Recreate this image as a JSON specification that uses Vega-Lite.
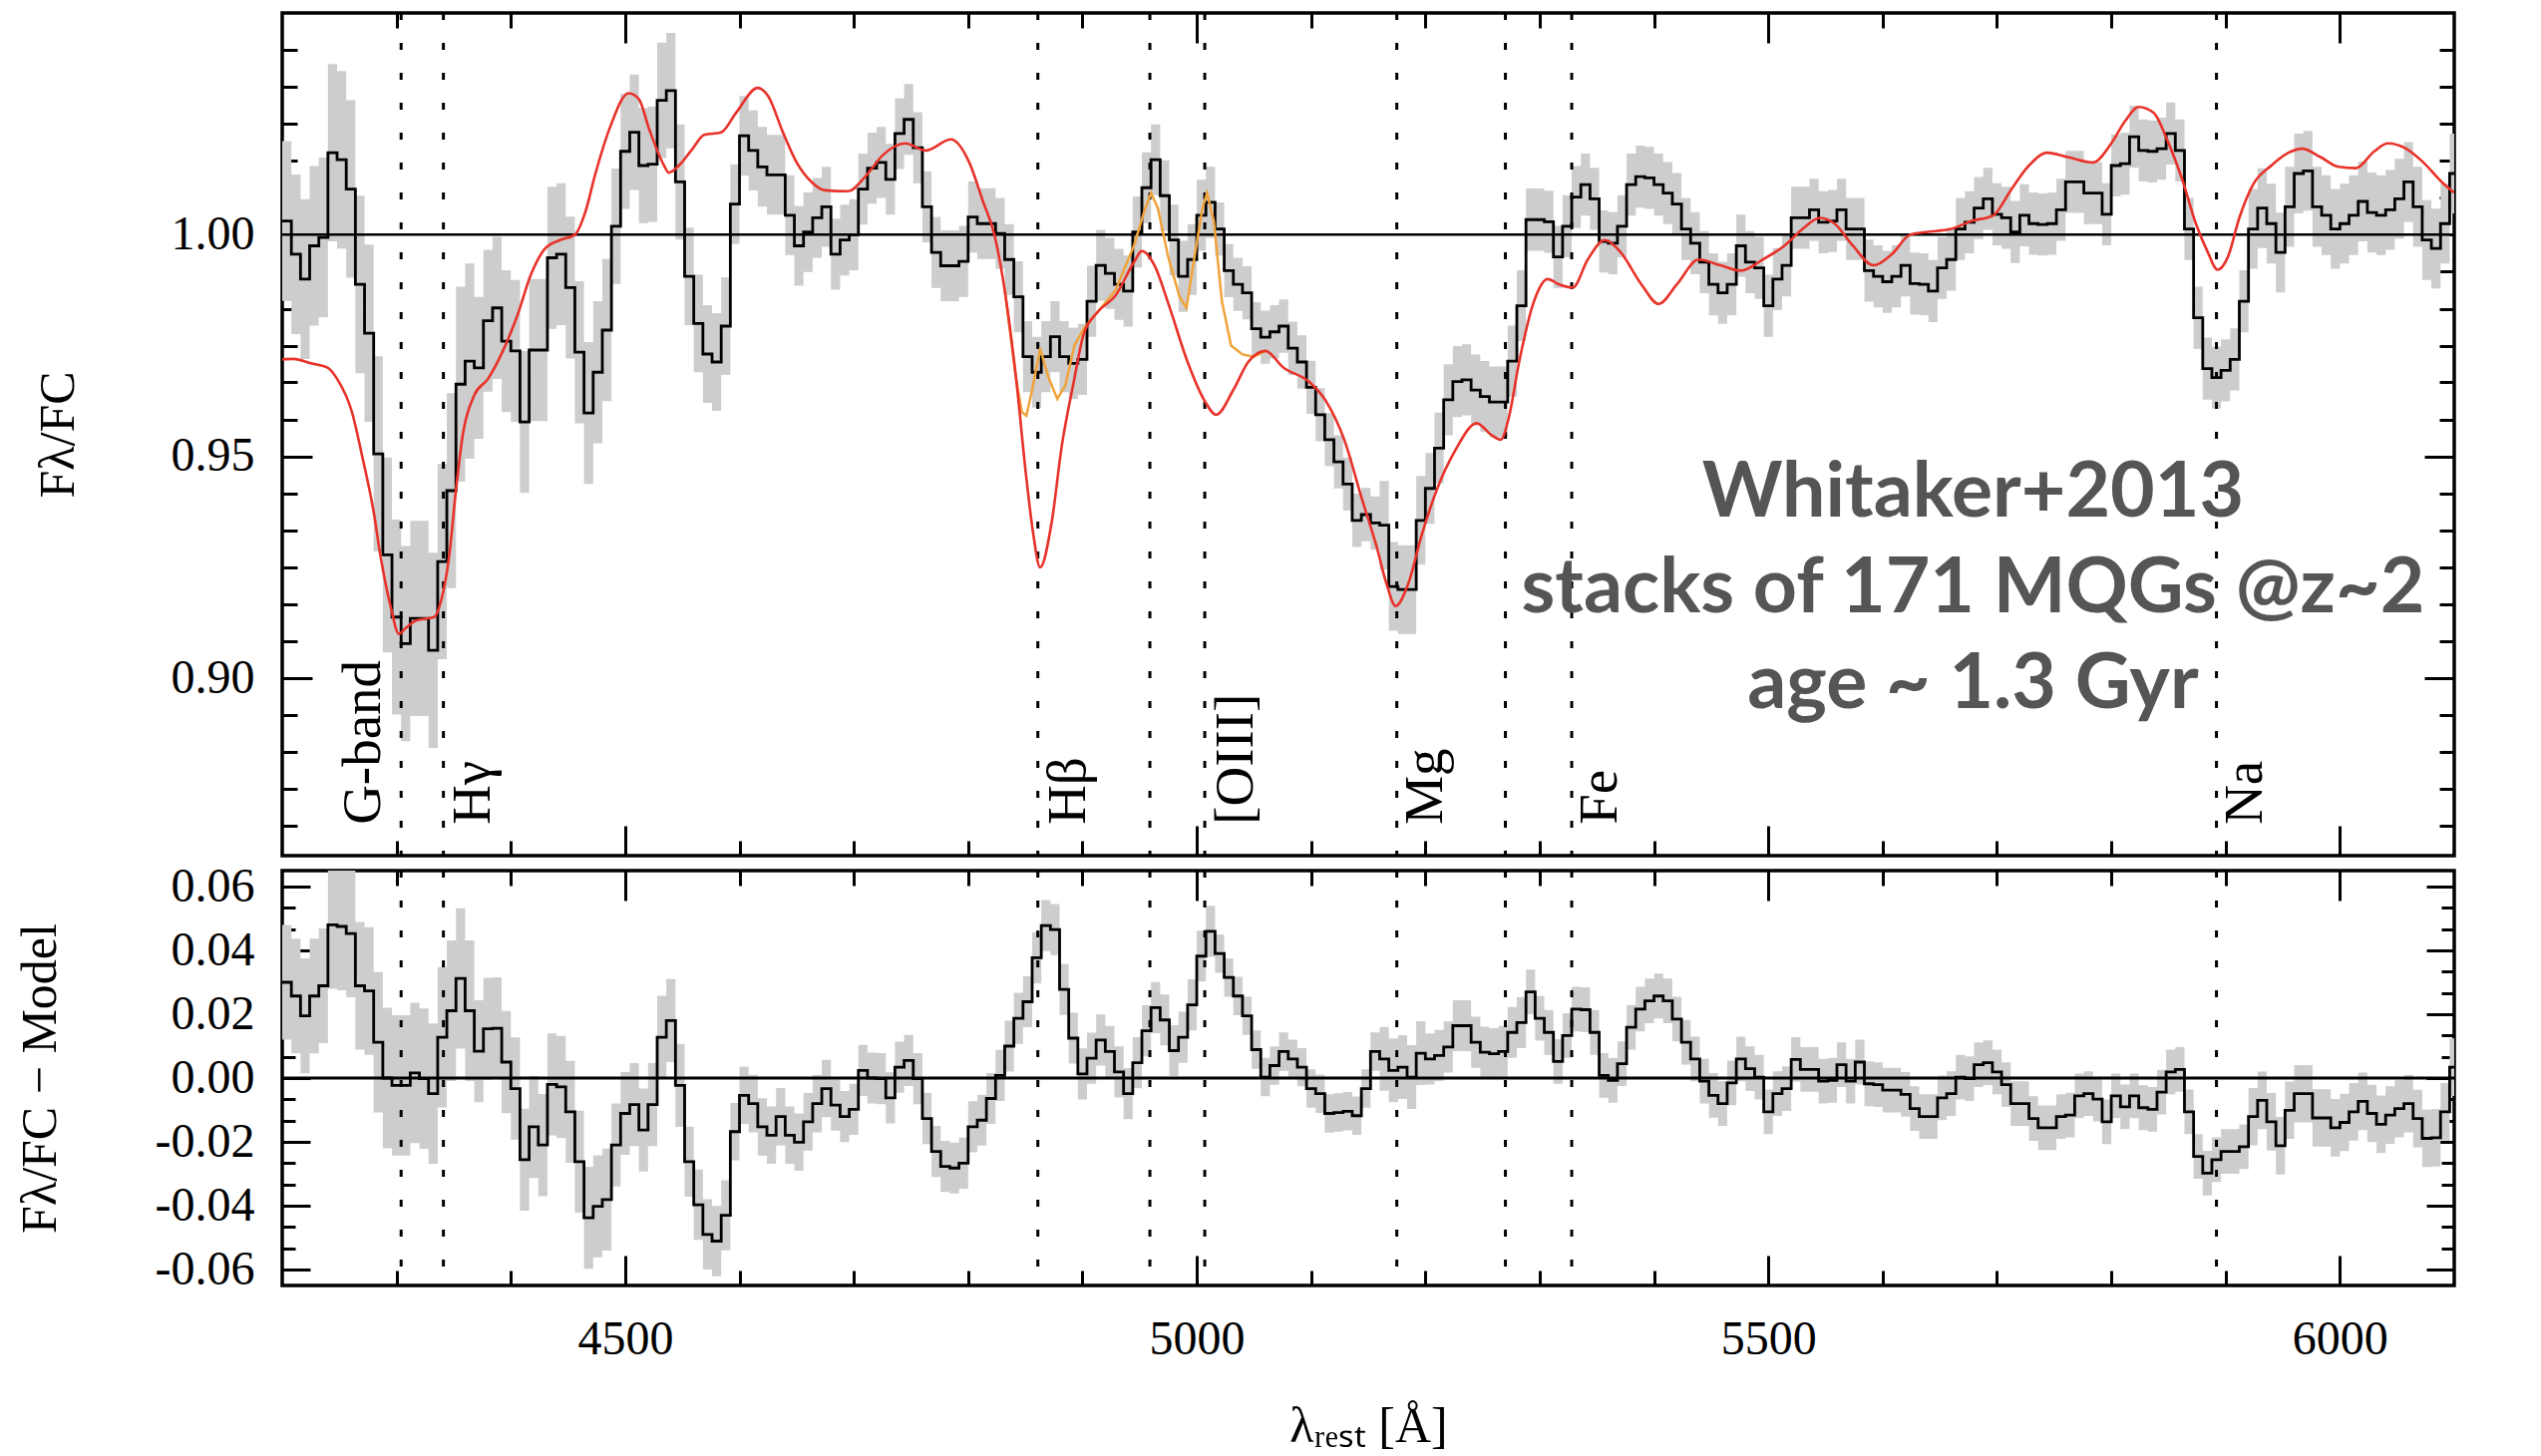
{
"$schema":"https://vega.github.io/schema/vega-lite/v6.json",
"background":"white",
"padding":{"left":13,"top":9,"right":0,"bottom":0},
"bounds":"flush",
"spacing":15,
"config":{
 "view":{"stroke":"black","strokeWidth":3.5},
 "axis":{"domain":false,"grid":false,"tickColor":"black","tickWidth":3,"labelFont":"Liberation Serif","labelFontSize":48,"labelColor":"black","titleFont":"Liberation Serif","titleFontSize":50,"titleFontWeight":"normal","titleColor":"black","zindex":1,"labelOverlap":false,"labelFlush":false}
},
"datasets":{
"spec":[
{"w":4200,"f":1.0031,"r":0.030,"e":0.018},{"w":4208,"f":0.9956,"r":0.0257,"e":0.018},{"w":4216,"f":0.990,"r":0.0195,"e":0.018},{"w":4224,"f":0.9975,"r":0.0257,"e":0.018},{"w":4232,"f":0.9994,"r":0.0289,"e":0.018},
{"w":4240,"f":1.0185,"r":0.048,"e":0.02},{"w":4248,"f":1.0169,"r":0.0475,"e":0.02},{"w":4256,"f":1.0103,"r":0.0453,"e":0.02},{"w":4264,"f":0.9888,"r":0.0289,"e":0.02},{"w":4272,"f":0.9778,"r":0.0273,"e":0.02},
{"w":4280,"f":0.9506,"r":0.0112,"e":0.022},{"w":4288,"f":0.9278,"r":0.0,"e":0.022},{"w":4296,"f":0.9138,"r":-0.0023,"e":0.022},{"w":4304,"f":0.9078,"r":-0.0023,"e":0.022},{"w":4312,"f":0.9135,"r":0.0016,"e":0.022},
{"w":4320,"f":0.9135,"r":-0.0002,"e":0.022},{"w":4328,"f":0.9063,"r":-0.0049,"e":0.022},{"w":4336,"f":0.9263,"r":0.0128,"e":0.022},{"w":4344,"f":0.9423,"r":0.0211,"e":0.022},{"w":4352,"f":0.9663,"r":0.0312,"e":0.022},
{"w":4360,"f":0.9715,"r":0.0211,"e":0.022},{"w":4368,"f":0.970,"r":0.0084,"e":0.016},{"w":4376,"f":0.9806,"r":0.0154,"e":0.016},{"w":4384,"f":0.9835,"r":0.0156,"e":0.016},{"w":4392,"f":0.976,"r":0.005,"e":0.016},
{"w":4400,"f":0.9738,"r":-0.0033,"e":0.016},{"w":4408,"f":0.9578,"r":-0.0256,"e":0.016},{"w":4416,"f":0.974,"r":-0.0153,"e":0.016},{"w":4424,"f":0.974,"r":-0.021,"e":0.016},{"w":4432,"f":0.9948,"r":-0.002,"e":0.016},
{"w":4440,"f":0.9956,"r":-0.0028,"e":0.016},{"w":4448,"f":0.9881,"r":-0.0106,"e":0.016},{"w":4456,"f":0.9735,"r":-0.0262,"e":0.016},{"w":4464,"f":0.9598,"r":-0.0438,"e":0.016},{"w":4472,"f":0.969,"r":-0.0402,"e":0.016},
{"w":4480,"f":0.9785,"r":-0.0381,"e":0.016},{"w":4488,"f":1.0019,"r":-0.021,"e":0.013},{"w":4496,"f":1.0188,"r":-0.0111,"e":0.013},{"w":4504,"f":1.0231,"r":-0.0083,"e":0.013},{"w":4512,"f":1.0156,"r":-0.0163,"e":0.013},
{"w":4520,"f":1.0159,"r":-0.0083,"e":0.013},{"w":4528,"f":1.0303,"r":0.0128,"e":0.013},{"w":4536,"f":1.0325,"r":0.018,"e":0.013},{"w":4544,"f":1.0119,"r":-0.0023,"e":0.013},{"w":4552,"f":0.9906,"r":-0.0262,"e":0.011},
{"w":4560,"f":0.980,"r":-0.0397,"e":0.011},{"w":4568,"f":0.9731,"r":-0.049,"e":0.011},{"w":4576,"f":0.9713,"r":-0.0511,"e":0.011},{"w":4584,"f":0.9794,"r":-0.043,"e":0.011},{"w":4592,"f":1.0069,"r":-0.0168,"e":0.009},
{"w":4600,"f":1.0223,"r":-0.0054,"e":0.009},{"w":4608,"f":1.019,"r":-0.008,"e":0.009},{"w":4616,"f":1.0153,"r":-0.0153,"e":0.009},{"w":4624,"f":1.0135,"r":-0.0179,"e":0.009},{"w":4632,"f":1.0135,"r":-0.0121,"e":0.009},
{"w":4640,"f":1.0044,"r":-0.0179,"e":0.009},{"w":4648,"f":0.9975,"r":-0.0201,"e":0.009},{"w":4656,"f":1.0006,"r":-0.0137,"e":0.009},{"w":4664,"f":1.0038,"r":-0.008,"e":0.009},{"w":4672,"f":1.0063,"r":-0.0033,"e":0.009},
{"w":4680,"f":0.9956,"r":-0.0085,"e":0.008},{"w":4688,"f":0.9988,"r":-0.0121,"e":0.008},{"w":4696,"f":1.000,"r":-0.0098,"e":0.008},{"w":4704,"f":1.0103,"r":0.0024,"e":0.008},{"w":4712,"f":1.015,"r":0.0,"e":0.008},
{"w":4720,"f":1.0163,"r":-0.0002,"e":0.008},{"w":4728,"f":1.0125,"r":-0.0062,"e":0.008},{"w":4736,"f":1.0228,"r":0.0034,"e":0.008},{"w":4744,"f":1.026,"r":0.0055,"e":0.008},{"w":4752,"f":1.0196,"r":-0.0002,"e":0.008},
{"w":4760,"f":1.0063,"r":-0.0127,"e":0.008},{"w":4768,"f":0.996,"r":-0.023,"e":0.008},{"w":4776,"f":0.993,"r":-0.0277,"e":0.008},{"w":4784,"f":0.993,"r":-0.0282,"e":0.008},{"w":4792,"f":0.994,"r":-0.0267,"e":0.008},
{"w":4800,"f":1.004,"r":-0.0153,"e":0.008},{"w":4808,"f":1.0025,"r":-0.0132,"e":0.008},{"w":4816,"f":1.0025,"r":-0.0064,"e":0.008},{"w":4824,"f":1.0003,"r":0.0008,"e":0.008},{"w":4832,"f":0.9944,"r":0.01,"e":0.008},
{"w":4840,"f":0.986,"r":0.0187,"e":0.008},{"w":4848,"f":0.9725,"r":0.0239,"e":0.008},{"w":4856,"f":0.969,"r":0.0377,"e":0.008},{"w":4864,"f":0.9725,"r":0.0478,"e":0.008},{"w":4872,"f":0.977,"r":0.0465,"e":0.008},
{"w":4880,"f":0.9725,"r":0.0278,"e":0.008},{"w":4888,"f":0.971,"r":0.0125,"e":0.008},{"w":4896,"f":0.9719,"r":0.0013,"e":0.008},{"w":4904,"f":0.985,"r":0.0062,"e":0.008},{"w":4912,"f":0.9931,"r":0.0119,"e":0.008},
{"w":4920,"f":0.9913,"r":0.0083,"e":0.008},{"w":4928,"f":0.9888,"r":0.0019,"e":0.008},{"w":4936,"f":0.9873,"r":-0.0049,"e":0.008},{"w":4944,"f":1.0006,"r":0.0048,"e":0.008},{"w":4952,"f":1.0106,"r":0.0148,"e":0.008},
{"w":4960,"f":1.0169,"r":0.0221,"e":0.008},{"w":4968,"f":1.0088,"r":0.0182,"e":0.008},{"w":4976,"f":0.9988,"r":0.0086,"e":0.008},{"w":4984,"f":0.9906,"r":0.0128,"e":0.008},{"w":4992,"f":0.9944,"r":0.0229,"e":0.008},
{"w":5000,"f":1.0044,"r":0.0382,"e":0.008},{"w":5008,"f":1.0073,"r":0.046,"e":0.008},{"w":5016,"f":1.0013,"r":0.039,"e":0.006},{"w":5024,"f":0.9919,"r":0.0315,"e":0.006},{"w":5032,"f":0.9888,"r":0.0257,"e":0.006},
{"w":5040,"f":0.9869,"r":0.0195,"e":0.006},{"w":5048,"f":0.9788,"r":0.0089,"e":0.006},{"w":5056,"f":0.9769,"r":0.0003,"e":0.006},{"w":5064,"f":0.9781,"r":0.0039,"e":0.006},{"w":5072,"f":0.9794,"r":0.0083,"e":0.006},
{"w":5080,"f":0.9744,"r":0.006,"e":0.006},{"w":5088,"f":0.9713,"r":0.0034,"e":0.006},{"w":5096,"f":0.9656,"r":-0.0033,"e":0.006},{"w":5104,"f":0.9594,"r":-0.0049,"e":0.006},{"w":5112,"f":0.9538,"r":-0.0111,"e":0.006},
{"w":5120,"f":0.9488,"r":-0.0108,"e":0.006},{"w":5128,"f":0.9438,"r":-0.0104,"e":0.006},{"w":5136,"f":0.9356,"r":-0.0118,"e":0.006},{"w":5144,"f":0.9369,"r":-0.0033,"e":0.006},{"w":5152,"f":0.935,"r":0.0083,"e":0.006},
{"w":5160,"f":0.9345,"r":0.006,"e":0.01},{"w":5168,"f":0.9207,"r":0.0024,"e":0.01},{"w":5176,"f":0.920,"r":0.0034,"e":0.01},{"w":5184,"f":0.920,"r":0.0003,"e":0.01},{"w":5192,"f":0.9356,"r":0.0078,"e":0.01},
{"w":5200,"f":0.9428,"r":0.006,"e":0.008},{"w":5208,"f":0.9519,"r":0.0071,"e":0.008},{"w":5216,"f":0.9628,"r":0.0097,"e":0.008},{"w":5224,"f":0.9669,"r":0.0164,"e":0.008},{"w":5232,"f":0.9673,"r":0.0164,"e":0.008},
{"w":5240,"f":0.965,"r":0.0112,"e":0.008},{"w":5248,"f":0.9635,"r":0.0081,"e":0.008},{"w":5256,"f":0.9623,"r":0.0076,"e":0.008},{"w":5264,"f":0.9623,"r":0.0083,"e":0.008},{"w":5272,"f":0.9715,"r":0.0143,"e":0.008},
{"w":5280,"f":0.984,"r":0.0174,"e":0.008},{"w":5288,"f":1.0034,"r":0.027,"e":0.007},{"w":5296,"f":1.0034,"r":0.0187,"e":0.007},{"w":5304,"f":1.0029,"r":0.0143,"e":0.007},{"w":5312,"f":0.995,"r":0.0052,"e":0.007},
{"w":5320,"f":1.0019,"r":0.0133,"e":0.007},{"w":5328,"f":1.0085,"r":0.0216,"e":0.007},{"w":5336,"f":1.0113,"r":0.0214,"e":0.007},{"w":5344,"f":1.0081,"r":0.0143,"e":0.007},{"w":5352,"f":0.9985,"r":0.0008,"e":0.007},
{"w":5360,"f":0.9981,"r":-0.0007,"e":0.007},{"w":5368,"f":1.0019,"r":0.0045,"e":0.007},{"w":5376,"f":1.0113,"r":0.0159,"e":0.007},{"w":5384,"f":1.0131,"r":0.0216,"e":0.007},{"w":5392,"f":1.0128,"r":0.0242,"e":0.007},
{"w":5400,"f":1.0113,"r":0.0257,"e":0.007},{"w":5408,"f":1.0094,"r":0.0242,"e":0.007},{"w":5416,"f":1.0069,"r":0.0185,"e":0.007},{"w":5424,"f":1.0013,"r":0.0112,"e":0.007},{"w":5432,"f":0.9981,"r":0.006,"e":0.007},
{"w":5440,"f":0.9938,"r":-0.001,"e":0.007},{"w":5448,"f":0.9888,"r":-0.0054,"e":0.007},{"w":5456,"f":0.9869,"r":-0.008,"e":0.007},{"w":5464,"f":0.9888,"r":-0.0015,"e":0.007},{"w":5472,"f":0.9975,"r":0.006,"e":0.007},
{"w":5480,"f":0.9938,"r":0.0029,"e":0.007},{"w":5488,"f":0.9925,"r":0.0003,"e":0.007},{"w":5496,"f":0.984,"r":-0.0106,"e":0.007},{"w":5504,"f":0.990,"r":-0.0049,"e":0.007},{"w":5512,"f":0.9931,"r":-0.0033,"e":0.007},
{"w":5520,"f":1.0038,"r":0.0058,"e":0.007},{"w":5528,"f":1.0038,"r":0.0027,"e":0.007},{"w":5536,"f":1.0056,"r":0.0027,"e":0.007},{"w":5544,"f":1.0028,"r":-0.001,"e":0.007},{"w":5552,"f":1.0031,"r":-0.0007,"e":0.007},
{"w":5560,"f":1.0056,"r":0.0042,"e":0.007},{"w":5568,"f":1.0013,"r":-0.001,"e":0.007},{"w":5576,"f":1.0013,"r":0.005,"e":0.007},{"w":5584,"f":0.9919,"r":-0.0018,"e":0.007},{"w":5592,"f":0.9906,"r":-0.0021,"e":0.007},
{"w":5600,"f":0.9894,"r":-0.0038,"e":0.007},{"w":5608,"f":0.9906,"r":-0.0038,"e":0.007},{"w":5616,"f":0.9931,"r":-0.0051,"e":0.007},{"w":5624,"f":0.989,"r":-0.0096,"e":0.007},{"w":5632,"f":0.9888,"r":-0.0121,"e":0.007},
{"w":5640,"f":0.9873,"r":-0.0121,"e":0.007},{"w":5648,"f":0.9925,"r":-0.0062,"e":0.007},{"w":5656,"f":0.9944,"r":-0.0049,"e":0.007},{"w":5664,"f":1.0013,"r":0.0003,"e":0.007},{"w":5672,"f":1.0028,"r":-0.0002,"e":0.007},
{"w":5680,"f":1.006,"r":0.0042,"e":0.007},{"w":5688,"f":1.0081,"r":0.0048,"e":0.007},{"w":5696,"f":1.0046,"r":0.0019,"e":0.007},{"w":5704,"f":1.0038,"r":-0.0021,"e":0.007},{"w":5712,"f":1.0006,"r":-0.008,"e":0.007},
{"w":5720,"f":1.0044,"r":-0.008,"e":0.007},{"w":5728,"f":1.0025,"r":-0.0127,"e":0.007},{"w":5736,"f":1.0023,"r":-0.0156,"e":0.007},{"w":5744,"f":1.0025,"r":-0.0156,"e":0.007},{"w":5752,"f":1.0056,"r":-0.0121,"e":0.007},
{"w":5760,"f":1.0119,"r":-0.0116,"e":0.007},{"w":5768,"f":1.0119,"r":-0.0056,"e":0.007},{"w":5776,"f":1.0094,"r":-0.0049,"e":0.007},{"w":5784,"f":1.0094,"r":-0.0066,"e":0.007},{"w":5792,"f":1.0046,"r":-0.0137,"e":0.007},
{"w":5800,"f":1.0156,"r":-0.0056,"e":0.007},{"w":5808,"f":1.016,"r":-0.009,"e":0.007},{"w":5816,"f":1.0221,"r":-0.0056,"e":0.007},{"w":5824,"f":1.019,"r":-0.0093,"e":0.007},{"w":5832,"f":1.0188,"r":-0.0098,"e":0.007},
{"w":5840,"f":1.0194,"r":-0.0044,"e":0.007},{"w":5848,"f":1.0228,"r":0.0019,"e":0.007},{"w":5856,"f":1.019,"r":0.0027,"e":0.007},{"w":5864,"f":1.0013,"r":-0.0106,"e":0.007},{"w":5872,"f":0.9813,"r":-0.0246,"e":0.007},
{"w":5880,"f":0.9698,"r":-0.0298,"e":0.007},{"w":5888,"f":0.9678,"r":-0.0256,"e":0.007},{"w":5896,"f":0.9694,"r":-0.023,"e":0.007},{"w":5904,"f":0.9719,"r":-0.023,"e":0.007},{"w":5912,"f":0.985,"r":-0.0215,"e":0.007},
{"w":5920,"f":1.0013,"r":-0.0121,"e":0.009},{"w":5928,"f":1.006,"r":-0.007,"e":0.009},{"w":5936,"f":1.0025,"r":-0.0137,"e":0.009},{"w":5944,"f":0.996,"r":-0.0212,"e":0.009},{"w":5952,"f":1.0063,"r":-0.0101,"e":0.009},
{"w":5960,"f":1.0138,"r":-0.0049,"e":0.009},{"w":5968,"f":1.0144,"r":-0.0049,"e":0.009},{"w":5976,"f":1.0063,"r":-0.0125,"e":0.009},{"w":5984,"f":1.0044,"r":-0.0125,"e":0.009},{"w":5992,"f":1.0013,"r":-0.0156,"e":0.009},
{"w":6000,"f":1.0025,"r":-0.0139,"e":0.009},{"w":6008,"f":1.0044,"r":-0.0106,"e":0.009},{"w":6016,"f":1.0075,"r":-0.0073,"e":0.009},{"w":6024,"f":1.005,"r":-0.0111,"e":0.009},{"w":6032,"f":1.0044,"r":-0.0145,"e":0.009},
{"w":6040,"f":1.0056,"r":-0.0116,"e":0.009},{"w":6048,"f":1.0081,"r":-0.0096,"e":0.009},{"w":6056,"f":1.0119,"r":-0.008,"e":0.009},{"w":6064,"f":1.0063,"r":-0.0127,"e":0.009},{"w":6072,"f":0.9988,"r":-0.0189,"e":0.009},
{"w":6080,"f":0.9969,"r":-0.0187,"e":0.009},{"w":6088,"f":1.0025,"r":-0.0106,"e":0.009},{"w":6096,"f":1.0138,"r":0.0034,"e":0.009},{"w":6104,"f":1.0138,"r":0.0034,"e":0.009}
],
"model":[
{"w":4200,"m":0.9719},{"w":4210,"m":0.972},{"w":4225,"m":0.971},{"w":4240,"m":0.970},{"w":4248,"m":0.9675},{"w":4261,"m":0.960},{"w":4270,"m":0.950},{"w":4280,"m":0.9375},{"w":4286,"m":0.9275},{"w":4295,"m":0.916},{"w":4302,"m":0.910},{"w":4308,"m":0.9113},{"w":4317,"m":0.913},{"w":4333,"m":0.9138},{"w":4339,"m":0.9175},{"w":4346,"m":0.9275},{"w":4352,"m":0.9425},{"w":4358,"m":0.955},{"w":4368,"m":0.9638},{"w":4380,"m":0.9675},{"w":4393,"m":0.9738},{"w":4405,"m":0.9813},{"w":4418,"m":0.9913},{"w":4430,"m":0.9969},{"w":4443,"m":0.9988},{"w":4456,"m":1.0},{"w":4465,"m":1.005},{"w":4474,"m":1.0138},{"w":4487,"m":1.0244},{"w":4503,"m":1.0319},{"w":4512,"m":1.0306},{"w":4521,"m":1.0238},{"w":4534,"m":1.0156},{"w":4538,"m":1.014},{"w":4547,"m":1.0156},{"w":4559,"m":1.0194},{"w":4569,"m":1.0225},{"w":4584,"m":1.0231},{"w":4597,"m":1.0275},{"w":4616,"m":1.0331},{"w":4625,"m":1.0313},{"w":4638,"m":1.0231},{"w":4650,"m":1.0163},{"w":4663,"m":1.0119},{"w":4675,"m":1.01},{"w":4695,"m":1.0098},{"w":4710,"m":1.0131},{"w":4726,"m":1.0181},{"w":4745,"m":1.0206},{"w":4763,"m":1.019},{"w":4785,"m":1.0215},{"w":4801,"m":1.0163},{"w":4813,"m":1.0075},{"w":4823,"m":1.0},{"w":4832,"m":0.9875},{"w":4842,"m":0.9675},{"w":4851,"m":0.945},{"w":4857,"m":0.9325},{"w":4863,"m":0.925},{"w":4873,"m":0.935},{"w":4882,"m":0.9525},{"w":4892,"m":0.9663},{"w":4901,"m":0.9775},{"w":4913,"m":0.9825},{"w":4929,"m":0.9863},{"w":4945,"m":0.9938},{"w":4952,"m":0.9963},{"w":4963,"m":0.9931},{"w":4976,"m":0.9838},{"w":4992,"m":0.9713},{"w":5007,"m":0.9625},{"w":5017,"m":0.9594},{"w":5032,"m":0.965},{"w":5045,"m":0.9713},{"w":5060,"m":0.9738},{"w":5076,"m":0.970},{"w":5098,"m":0.9669},{"w":5113,"m":0.9625},{"w":5129,"m":0.9538},{"w":5145,"m":0.940},{"w":5157,"m":0.930},{"w":5166,"m":0.9213},{"w":5174,"m":0.9163},{"w":5185,"m":0.9213},{"w":5197,"m":0.9325},{"w":5210,"m":0.9425},{"w":5226,"m":0.9513},{"w":5245,"m":0.9575},{"w":5257,"m":0.955},{"w":5266,"m":0.9538},{"w":5273,"m":0.9588},{"w":5282,"m":0.9713},{"w":5295,"m":0.985},{"w":5307,"m":0.990},{"w":5317,"m":0.9888},{"w":5329,"m":0.9881},{"w":5342,"m":0.9944},{"w":5357,"m":0.9988},{"w":5370,"m":0.9963},{"w":5389,"m":0.9888},{"w":5404,"m":0.9844},{"w":5420,"m":0.9888},{"w":5439,"m":0.9944},{"w":5458,"m":0.9931},{"w":5476,"m":0.9919},{"w":5495,"m":0.9944},{"w":5514,"m":0.9975},{"w":5530,"m":1.0013},{"w":5545,"m":1.0038},{"w":5558,"m":1.0025},{"w":5574,"m":0.9975},{"w":5592,"m":0.9931},{"w":5608,"m":0.9956},{"w":5624,"m":1.0},{"w":5638,"m":1.0006},{"w":5660,"m":1.0013},{"w":5678,"m":1.0031},{"w":5697,"m":1.0044},{"w":5712,"m":1.01},{"w":5728,"m":1.0156},{"w":5744,"m":1.0185},{"w":5762,"m":1.0175},{"w":5784,"m":1.0163},{"w":5800,"m":1.0206},{"w":5812,"m":1.0256},{"w":5824,"m":1.0288},{"w":5837,"m":1.0275},{"w":5849,"m":1.0213},{"w":5862,"m":1.0125},{"w":5874,"m":1.0025},{"w":5884,"m":0.9963},{"w":5893,"m":0.9921},{"w":5902,"m":0.995},{"w":5912,"m":1.0038},{"w":5924,"m":1.0113},{"w":5940,"m":1.0156},{"w":5955,"m":1.0185},{"w":5967,"m":1.0194},{"w":5983,"m":1.0175},{"w":5999,"m":1.0153},{"w":6014,"m":1.015},{"w":6030,"m":1.0188},{"w":6042,"m":1.0206},{"w":6058,"m":1.0194},{"w":6073,"m":1.0163},{"w":6089,"m":1.0119},{"w":6100,"m":1.0095}
],
"orange":[
{"w":4832,"o":0.9875},{"w":4842,"o":0.9675},{"w":4847,"o":0.960},{"w":4851,"o":0.9592},{"w":4856,"o":0.965},{"w":4863,"o":0.9744},{"w":4870,"o":0.968},{"w":4878,"o":0.963},{"w":4885,"o":0.966},{"w":4893,"o":0.975},{"w":4901,"o":0.9788},{"w":4913,"o":0.9825},{"w":4929,"o":0.9875},{"w":4945,"o":0.9975},{"w":4955,"o":1.006},{"w":4960,"o":1.0094},{"w":4966,"o":1.006},{"w":4975,"o":0.995},{"w":4985,"o":0.986},{"w":4991,"o":0.9835},{"w":4998,"o":0.995},{"w":5005,"o":1.006},{"w":5009,"o":1.0094},{"w":5015,"o":1.003},{"w":5022,"o":0.985},{"w":5030,"o":0.975},{"w":5040,"o":0.973},{"w":5050,"o":0.9725},{"w":5060,"o":0.9738}
],
"lines":[{"w":4304},{"w":4341},{"w":4861},{"w":4959},{"w":5007},{"w":5175},{"w":5270},{"w":5328},{"w":5892}],
"labels":[{"w":4271,"t":"G-band"},{"w":4367,"t":"Hγ"},{"w":4887,"t":"Hβ"},{"w":5034,"t":"[OIII]"},{"w":5200,"t":"Mg"},{"w":5352,"t":"Fe"},{"w":5917,"t":"Na"}]
},
"vconcat":[
{
 "width":2178,"height":845,
 "resolve":{"axis":{"x":"independent","y":"independent"}},
 "layer":[
  {"data":{"name":"spec"},"mark":{"type":"errorband","interpolate":"step-after","color":"#cdcdcd","opacity":1,"clip":true},
   "encoding":{"x":{"field":"w","type":"quantitative","scale":{"domain":[4200,6100],"nice":false,"zero":false},"axis":null},
    "y":{"field":"f","type":"quantitative","scale":{"domain":[0.86,1.05],"nice":false,"zero":false},"axis":null},
    "yError":{"field":"e"}}},
  {"data":{"values":[{}]},"mark":{"type":"rule","color":"black","strokeWidth":2.5},
   "encoding":{"y":{"datum":1,"type":"quantitative","scale":{"domain":[0.86,1.05],"nice":false,"zero":false},"axis":null}}},
  {"data":{"name":"lines"},"mark":{"type":"rule","color":"black","strokeWidth":3,"strokeDash":[7,23]},
   "encoding":{"x":{"field":"w","type":"quantitative","scale":{"domain":[4200,6100],"nice":false,"zero":false},"axis":null}}},
  {"data":{"name":"spec"},"mark":{"type":"line","interpolate":"step-after","color":"black","strokeWidth":2.8,"clip":true},
   "encoding":{"x":{"field":"w","type":"quantitative","scale":{"domain":[4200,6100],"nice":false,"zero":false},
     "axis":{"orient":"bottom","values":[4500,5000,5500,6000],"tickSize":-30,"labels":false,"title":null}},
    "y":{"field":"f","type":"quantitative","scale":{"domain":[0.86,1.05],"nice":false,"zero":false},
     "axis":{"orient":"left","values":[0.9,0.95,1.0],"tickSize":-30,"format":".2f","labelPadding":58,"title":"Fλ/FC","titleX":-225,"titleY":422.5,"titleAngle":270,"titleBaseline":"middle","titleAlign":"center"}}}},
  {"data":{"name":"orange"},"mark":{"type":"line","color":"#f0a33a","strokeWidth":2.5,"clip":true},
   "encoding":{"x":{"field":"w","type":"quantitative","scale":{"domain":[4200,6100],"nice":false,"zero":false},
     "axis":{"orient":"top","values":[4500,5000,5500,6000],"tickSize":-30,"labels":false,"title":null}},
    "y":{"field":"o","type":"quantitative","scale":{"domain":[0.86,1.05],"nice":false,"zero":false},
     "axis":{"orient":"right","values":[0.9,0.95,1.0],"tickSize":-30,"labels":false,"title":null}}}},
  {"data":{"name":"model"},"mark":{"type":"line","color":"#e8322a","strokeWidth":2.6,"interpolate":"monotone","clip":true},
   "encoding":{"x":{"field":"w","type":"quantitative","scale":{"domain":[4200,6100],"nice":false,"zero":false},
     "axis":{"orient":"bottom","values":[4300,4400,4600,4700,4800,4900,5100,5200,5300,5400,5600,5700,5800,5900],"tickSize":-15,"labels":false,"title":null}},
    "y":{"field":"m","type":"quantitative","scale":{"domain":[0.86,1.05],"nice":false,"zero":false},
     "axis":{"orient":"left","values":[0.8667,0.875,0.8833,0.8917,0.9083,0.9167,0.925,0.9333,0.9417,0.9583,0.9667,0.975,0.9833,0.9917,1.0083,1.0167,1.025,1.0333,1.0417],"tickSize":-15,"labels":false,"title":null}}}},
  {"data":{"name":"labels"},"mark":{"type":"text","angle":270,"align":"left","baseline":"middle","font":"Liberation Serif","fontSize":55,"color":"black"},
   "encoding":{"x":{"field":"w","type":"quantitative","scale":{"domain":[4200,6100],"nice":false,"zero":false},
     "axis":{"orient":"top","values":[4300,4400,4600,4700,4800,4900,5100,5200,5300,5400,5600,5700,5800,5900],"tickSize":-15,"labels":false,"title":null}},
    "y":{"datum":0.867,"type":"quantitative","scale":{"domain":[0.86,1.05],"nice":false,"zero":false},
     "axis":{"orient":"right","values":[0.8667,0.875,0.8833,0.8917,0.9083,0.9167,0.925,0.9333,0.9417,0.9583,0.9667,0.975,0.9833,0.9917,1.0083,1.0167,1.025,1.0333,1.0417],"tickSize":-15,"labels":false,"title":null}},
    "text":{"field":"t"}}},
  {"data":{"values":[{}]},"mark":{"type":"text","text":"Whitaker+2013","font":"Lato","fontWeight":"bold","fontSize":77,"color":"#555555","align":"center","baseline":"alphabetic"},
   "encoding":{"x":{"datum":5679,"type":"quantitative","scale":{"domain":[4200,6100],"nice":false,"zero":false},"axis":null},
    "y":{"datum":0.9364,"type":"quantitative","scale":{"domain":[0.86,1.05],"nice":false,"zero":false},"axis":null}}},
  {"data":{"values":[{}]},"mark":{"type":"text","text":"stacks of 171 MQGs @z~2","font":"Lato","fontWeight":"bold","fontSize":77,"color":"#555555","align":"center","baseline":"alphabetic"},
   "encoding":{"x":{"datum":5679,"type":"quantitative","scale":{"domain":[4200,6100],"nice":false,"zero":false},"axis":null},
    "y":{"datum":0.9148,"type":"quantitative","scale":{"domain":[0.86,1.05],"nice":false,"zero":false},"axis":null}}},
  {"data":{"values":[{}]},"mark":{"type":"text","text":"age ~ 1.3 Gyr","font":"Lato","fontWeight":"bold","fontSize":77,"color":"#555555","align":"center","baseline":"alphabetic"},
   "encoding":{"x":{"datum":5679,"type":"quantitative","scale":{"domain":[4200,6100],"nice":false,"zero":false},"axis":null},
    "y":{"datum":0.8932,"type":"quantitative","scale":{"domain":[0.86,1.05],"nice":false,"zero":false},"axis":null}}}
 ]
},
{
 "width":2178,"height":416,
 "resolve":{"axis":{"x":"independent","y":"independent"}},
 "layer":[
  {"data":{"name":"spec"},"mark":{"type":"errorband","interpolate":"step-after","color":"#cdcdcd","opacity":1,"clip":true},
   "encoding":{"x":{"field":"w","type":"quantitative","scale":{"domain":[4200,6100],"nice":false,"zero":false},"axis":null},
    "y":{"field":"r","type":"quantitative","scale":{"domain":[-0.065,0.065],"nice":false,"zero":false},"axis":null},
    "yError":{"field":"e"}}},
  {"data":{"values":[{}]},"mark":{"type":"rule","color":"black","strokeWidth":3},
   "encoding":{"y":{"datum":0,"type":"quantitative","scale":{"domain":[-0.065,0.065],"nice":false,"zero":false},"axis":null}}},
  {"data":{"name":"lines"},"mark":{"type":"rule","color":"black","strokeWidth":3,"strokeDash":[7,23]},
   "encoding":{"x":{"field":"w","type":"quantitative","scale":{"domain":[4200,6100],"nice":false,"zero":false},"axis":null}}},
  {"data":{"name":"spec"},"mark":{"type":"line","interpolate":"step-after","color":"black","strokeWidth":2.8,"clip":true},
   "encoding":{"x":{"field":"w","type":"quantitative","scale":{"domain":[4200,6100],"nice":false,"zero":false},
     "axis":{"orient":"bottom","values":[4500,5000,5500,6000],"tickSize":-30,"format":"d","labelPadding":60,"title":"λᵣₑₛₜ [Å]","titlePadding":38}},
    "y":{"field":"r","type":"quantitative","scale":{"domain":[-0.065,0.065],"nice":false,"zero":false},
     "axis":{"orient":"left","values":[-0.06,-0.04,-0.02,0,0.02,0.04,0.06],"tickSize":-28,"labelExpr":"replace(format(datum.value, '.2f'), '−', '-')","labelPadding":56,"title":"Fλ/FC − Model","titleX":-243,"titleY":208,"titleAngle":270,"titleBaseline":"middle","titleAlign":"center"}}}},
  {"data":{"name":"spec"},"mark":{"type":"line","interpolate":"step-after","color":"black","strokeWidth":0,"opacity":0,"clip":true},
   "encoding":{"x":{"field":"w","type":"quantitative","scale":{"domain":[4200,6100],"nice":false,"zero":false},
     "axis":{"orient":"top","values":[4500,5000,5500,6000],"tickSize":-30,"labels":false,"title":null}},
    "y":{"field":"r","type":"quantitative","scale":{"domain":[-0.065,0.065],"nice":false,"zero":false},
     "axis":{"orient":"right","values":[-0.06,-0.04,-0.02,0,0.02,0.04,0.06],"tickSize":-28,"labels":false,"title":null}}}},
  {"data":{"name":"spec"},"mark":{"type":"line","interpolate":"step-after","color":"black","strokeWidth":0,"opacity":0,"clip":true},
   "encoding":{"x":{"field":"w","type":"quantitative","scale":{"domain":[4200,6100],"nice":false,"zero":false},
     "axis":{"orient":"bottom","values":[4300,4400,4600,4700,4800,4900,5100,5200,5300,5400,5600,5700,5800,5900],"tickSize":-15,"labels":false,"title":null}},
    "y":{"field":"r","type":"quantitative","scale":{"domain":[-0.065,0.065],"nice":false,"zero":false},
     "axis":{"orient":"left","values":[-0.0533,-0.0467,-0.0333,-0.0267,-0.0133,-0.0067,0.0067,0.0133,0.0267,0.0333,0.0467,0.0533],"tickSize":-13,"labels":false,"title":null}}}},
  {"data":{"name":"spec"},"mark":{"type":"line","interpolate":"step-after","color":"black","strokeWidth":0,"opacity":0,"clip":true},
   "encoding":{"x":{"field":"w","type":"quantitative","scale":{"domain":[4200,6100],"nice":false,"zero":false},
     "axis":{"orient":"top","values":[4300,4400,4600,4700,4800,4900,5100,5200,5300,5400,5600,5700,5800,5900],"tickSize":-15,"labels":false,"title":null}},
    "y":{"field":"r","type":"quantitative","scale":{"domain":[-0.065,0.065],"nice":false,"zero":false},
     "axis":{"orient":"right","values":[-0.0533,-0.0467,-0.0333,-0.0267,-0.0133,-0.0067,0.0067,0.0133,0.0267,0.0333,0.0467,0.0533],"tickSize":-13,"labels":false,"title":null}}}}
 ]
}
]
}
